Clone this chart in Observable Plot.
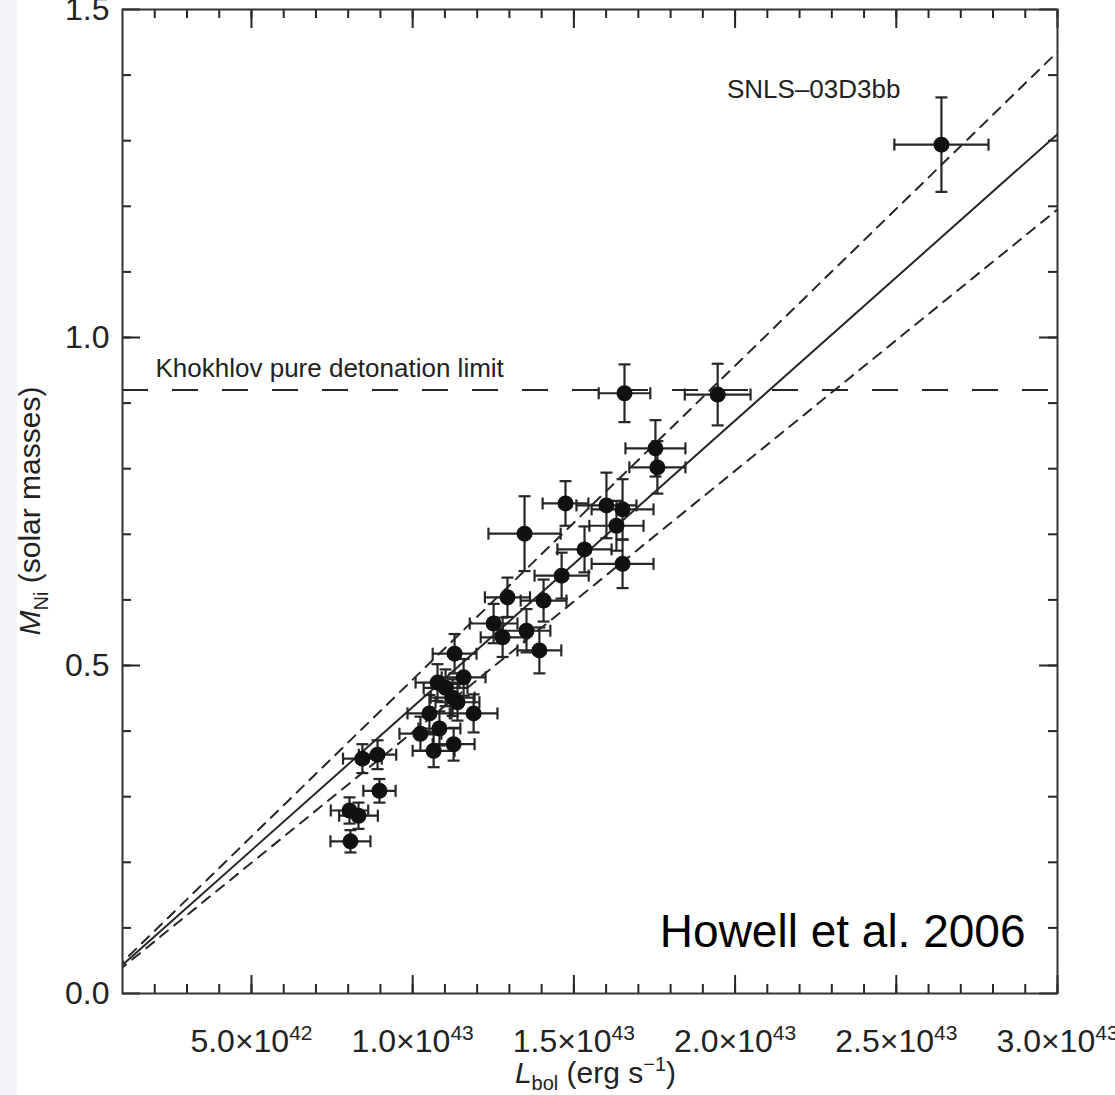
<!DOCTYPE html>
<html>
<head>
<meta charset="utf-8">
<script src="https://cdn.jsdelivr.net/npm/d3@7"></script>
<script src="https://cdn.jsdelivr.net/npm/@observablehq/plot@0.6"></script>
<style>
  body { margin: 0; background: #ffffff; }
  #strip { position: absolute; left: 0; top: 0; width: 17px; height: 1095px; background: #f4f5fa; }
  #chart { position: absolute; left: 0; top: 0; }
</style>
</head>
<body>
<div id="strip"></div>
<div id="chart"></div>
<script>
// ---- Data ----
// Bolometric luminosity (erg/s) and its error
const lbol = [2.64e43, 1.657e43, 1.946e43, 1.753e43, 1.759e43, 1.474e43, 1.601e43, 1.651e43, 1.632e43, 1.347e43,
              1.533e43, 1.651e43, 1.462e43, 1.406e43, 1.294e43, 1.251e43, 1.279e43, 1.353e43, 1.393e43, 1.130e43,
              1.158e43, 1.077e43, 1.102e43, 1.124e43, 1.139e43, 1.052e43, 1.189e43, 1.024e43, 1.083e43, 1.127e43,
              1.065e43, 0.844e43, 0.891e43, 0.897e43, 0.804e43, 0.832e43, 0.807e43];
const lbolErr = [1.46e42, 0.80e42, 1.02e42, 0.93e42, 0.87e42, 0.71e42, 0.93e42, 0.96e42, 0.84e42, 1.12e42,
                 0.84e42, 0.96e42, 0.84e42, 0.71e42, 0.70e42, 0.74e42, 0.68e42, 0.74e42, 0.68e42, 0.68e42,
                 0.68e42, 0.68e42, 0.68e42, 0.68e42, 0.68e42, 0.68e42, 0.74e42, 0.65e42, 0.65e42, 0.65e42,
                 0.65e42, 0.60e42, 0.58e42, 0.50e42, 0.58e42, 0.60e42, 0.62e42];
// Nickel mass (solar masses) and its error
const mni = [1.294, 0.915, 0.913, 0.831, 0.802, 0.747, 0.744, 0.738, 0.713, 0.701,
             0.677, 0.655, 0.637, 0.599, 0.604, 0.564, 0.543, 0.553, 0.523, 0.518,
             0.482, 0.474, 0.466, 0.451, 0.444, 0.427, 0.427, 0.396, 0.404, 0.380,
             0.370, 0.358, 0.364, 0.309, 0.279, 0.271, 0.232];
const mniErr = [0.072, 0.044, 0.047, 0.043, 0.040, 0.034, 0.050, 0.046, 0.038, 0.057,
                0.035, 0.037, 0.035, 0.032, 0.030, 0.030, 0.030, 0.033, 0.035, 0.030,
                0.028, 0.028, 0.028, 0.028, 0.028, 0.028, 0.029, 0.026, 0.026, 0.025,
                0.025, 0.022, 0.022, 0.018, 0.020, 0.020, 0.017];
// Model lines M = L / coef (coef in erg/s per solar mass)
const lineNames = ["upper", "fit", "lower"];
const lineCoef = [2.09e43, 2.29e43, 2.51e43];
const khokhlovLimit = 0.92;
const highlightName = "SNLS\u201303D3bb";
const creditText = "Howell et al. 2006";
// Tick values
const xMajorTicks = [5e42, 1e43, 1.5e43, 2e43, 2.5e43, 3e43];
const xMinorTicks = d3.range(2, 31).map(k => k * 1e42);
const yMajorTicks = [0, 0.5, 1.0, 1.5];
const yMinorTicks = d3.range(1, 15).map(k => k / 10);

// ---- Build ----
const sne = lbol.map((L, i) => ({L, eL: lbolErr[i], M: mni[i], eM: mniErr[i]}));
const models = lineNames.flatMap((name, i) => [0, 3.2e43].map(L => ({name, L, M: L / lineCoef[i]})));

const W = 1115, H = 1095, mL = 122, mR = 58, mT = 9, mB = 102;
const fw = W - mL - mR, fh = H - mT - mB;
const font = "'Liberation Sans', Arial, Helvetica, sans-serif";
const ink = "#262626";

const hcap = {draw(ctx, size) { const r = Math.sqrt(size / Math.PI); ctx.moveTo(-r, 0); ctx.lineTo(r, 0); }};
const vcap = {draw(ctx, size) { const r = Math.sqrt(size / Math.PI); ctx.moveTo(0, -r); ctx.lineTo(0, r); }};

const fmtX = d => {
  const e = Math.floor(Math.log10(d) + 1e-9);
  return `${(d / 10 ** e).toFixed(1)}×10^${e}`;
};

const chart = Plot.plot({
  width: W, height: H,
  marginLeft: mL, marginRight: mR, marginTop: mT, marginBottom: mB,
  style: {background: "transparent", fontFamily: font, color: ink},
  x: {domain: [1e42, 3e43], axis: null},
  y: {domain: [0, 1.5], axis: null},
  marks: [
    // model lines
    Plot.line(models.filter(d => d.name === "fit"), {x: "L", y: "M", stroke: ink, strokeWidth: 2, clip: true}),
    Plot.line(models.filter(d => d.name !== "fit"), {x: "L", y: "M", z: "name", stroke: ink, strokeWidth: 2, strokeDasharray: "10,8", clip: true}),
    Plot.ruleY([khokhlovLimit], {stroke: ink, strokeWidth: 2, strokeDasharray: "26,24"}),
    // error bars
    Plot.ruleY(sne, {y: "M", x1: d => d.L - d.eL, x2: d => d.L + d.eL, stroke: ink, strokeWidth: 2.2}),
    Plot.ruleX(sne, {x: "L", y1: d => d.M - d.eM, y2: d => d.M + d.eM, stroke: ink, strokeWidth: 2.2}),
    Plot.dot(sne, {x: d => d.L - d.eL, y: "M", symbol: vcap, r: 6, fill: "none", stroke: ink, strokeWidth: 2.2}),
    Plot.dot(sne, {x: d => d.L + d.eL, y: "M", symbol: vcap, r: 6, fill: "none", stroke: ink, strokeWidth: 2.2}),
    Plot.dot(sne, {x: "L", y: d => d.M - d.eM, symbol: hcap, r: 6, fill: "none", stroke: ink, strokeWidth: 2.2}),
    Plot.dot(sne, {x: "L", y: d => d.M + d.eM, symbol: hcap, r: 6, fill: "none", stroke: ink, strokeWidth: 2.2}),
    Plot.dot(sne, {x: "L", y: "M", r: 8, fill: "#111", stroke: "none"}),
    // ticks (inward) on all four sides
    Plot.tickX(xMajorTicks, {x: d => d, insetTop: fh - 18, stroke: ink, strokeWidth: 2}),
    Plot.tickX(xMinorTicks, {x: d => d, insetTop: fh - 9, stroke: ink, strokeWidth: 2}),
    Plot.tickX(xMajorTicks, {x: d => d, insetBottom: fh - 19, stroke: ink, strokeWidth: 2}),
    Plot.tickX(xMinorTicks, {x: d => d, insetBottom: fh - 9, stroke: ink, strokeWidth: 2}),
    Plot.tickY(yMajorTicks, {y: d => d, insetRight: fw - 18, stroke: ink, strokeWidth: 2}),
    Plot.tickY(yMinorTicks, {y: d => d, insetRight: fw - 9, stroke: ink, strokeWidth: 2}),
    Plot.tickY(yMajorTicks, {y: d => d, insetLeft: fw - 18, stroke: ink, strokeWidth: 2}),
    Plot.tickY(yMinorTicks, {y: d => d, insetLeft: fw - 9, stroke: ink, strokeWidth: 2}),
    Plot.frame({stroke: "#333", strokeWidth: 2}),
    // tick labels
    Plot.axisX({ticks: xMajorTicks, tickSize: 0, tickPadding: 36, tickFormat: fmtX, fontSize: 32, label: null, fill: "#222"}),
    Plot.axisY({ticks: yMajorTicks, tickSize: 0, tickPadding: 13, tickFormat: d3.format(".1f"), fontSize: 32, label: null, fill: "#222"}),
    // annotations
    Plot.text([khokhlovLimit], {y: d => d, frameAnchor: "left", dx: 33, dy: -21, text: () => "Khokhlov pure detonation limit", textAnchor: "start", fontSize: 26, fill: "#222"}),
    Plot.text(sne.filter(d => d.L === d3.max(lbol)), {x: "L", y: "M", dx: -41, dy: -55, text: () => highlightName, textAnchor: "end", fontSize: 26, fill: "#222"}),
    Plot.text([creditText], {frameAnchor: "bottom-right", dx: -32, dy: -47, textAnchor: "end", fontSize: 46, fill: "#000"})
  ]
});

// superscript exponents in x tick labels
d3.select(chart).selectAll('g[aria-label="x-axis tick label"] text').each(function() {
  const t = d3.select(this);
  const parts = t.text().split("^");
  if (parts.length !== 2) return;
  t.text(null);
  t.append("tspan").text(parts[0]);
  t.append("tspan").attr("dy", -12).attr("font-size", 21).text(parts[1]);
});

// axis titles with rich text
const svg = d3.select(chart);
const yt = svg.append("text")
  .attr("transform", `translate(40, ${mT + fh * 0.5 + 10}) rotate(-90)`)
  .attr("text-anchor", "middle").attr("font-family", font).attr("font-size", 30).attr("fill", "#222");
yt.append("tspan").attr("font-style", "italic").text("M");
yt.append("tspan").attr("dy", 8).attr("font-size", 20).text("Ni");
yt.append("tspan").attr("dy", -8).text(" (solar masses)");

const xt = svg.append("text")
  .attr("transform", `translate(${mL + fw * 0.5 + 6}, 1083)`)
  .attr("text-anchor", "middle").attr("font-family", font).attr("font-size", 30).attr("fill", "#222");
xt.append("tspan").attr("font-style", "italic").text("L");
xt.append("tspan").attr("dy", 7).attr("font-size", 20).text("bol");
xt.append("tspan").attr("dy", -7).text(" (erg s");
xt.append("tspan").attr("dy", -12).attr("font-size", 20).text("\u22121");
xt.append("tspan").attr("dy", 12).text(")");

document.getElementById("chart").appendChild(chart);
</script>
</body>
</html>
